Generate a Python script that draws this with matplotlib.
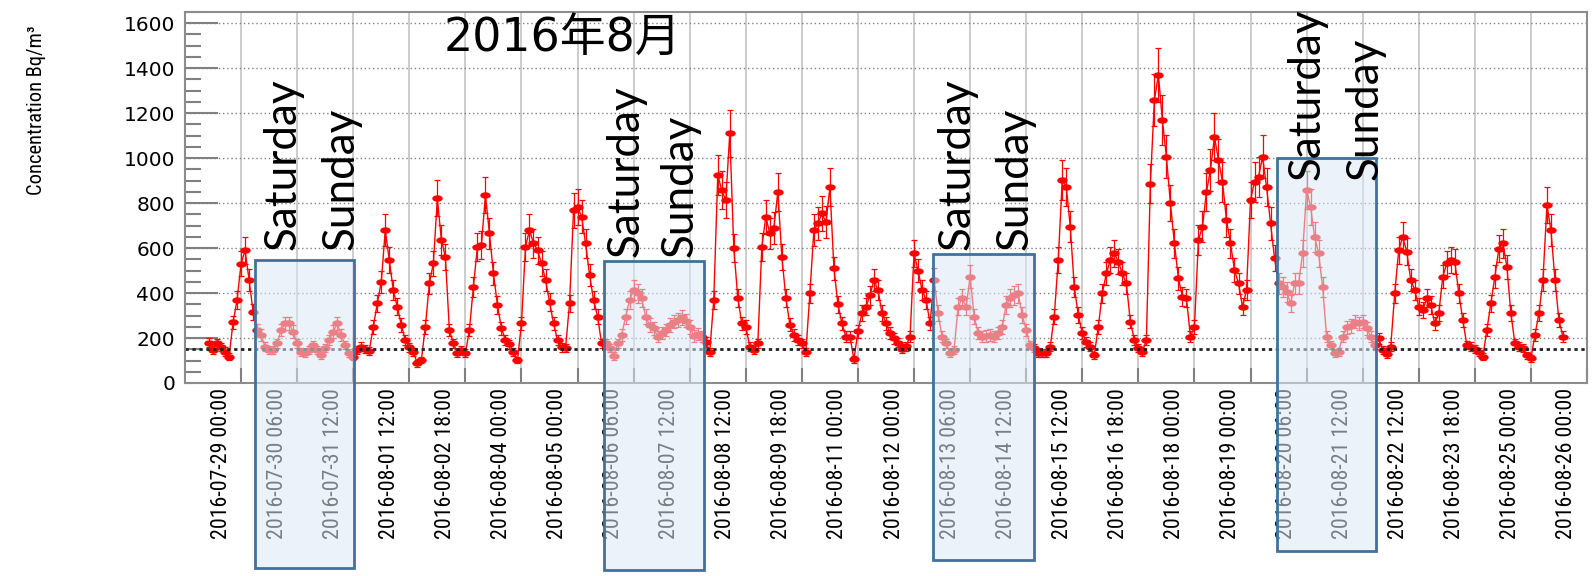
import numpy as np
import matplotlib
matplotlib.use('Agg')
import matplotlib.pyplot as plt
from matplotlib import font_manager as fm
from matplotlib.path import Path
from matplotlib.patches import Rectangle
from matplotlib.ticker import MultipleLocator
from matplotlib.transforms import Affine2D, ScaledTranslation

# radon readings every 2 hours, first one 16 h before 2016-07-29 00:00
start_hour = -16
step_hours = 2
radon = [
    180, 145, 176, 160, 140, 117, 270, 370, 530, 590,
    458, 317, 236, 213, 161, 147, 147, 176, 236, 265,
    265, 228, 176, 139, 132, 147, 169, 147, 124, 154,
    191, 228, 265, 213, 169, 135, 117, 147, 161, 150,
    144, 250, 354, 450, 680, 547, 413, 339, 258, 191,
    158, 139, 87, 102, 250, 443, 532, 821, 636, 561,
    236, 176, 132, 147, 132, 236, 428, 606, 613, 836,
    665, 487, 347, 243, 191, 173, 139, 102, 265, 606,
    680, 621, 591, 532, 458, 361, 265, 191, 158, 154,
    354, 769, 784, 740, 621, 480, 369, 295, 176, 176,
    154, 120, 176, 213, 295, 369, 413, 399, 376, 295,
    258, 243, 206, 221, 236, 258, 273, 280, 292, 277,
    250, 209, 218, 206, 184, 139, 369, 924, 858, 813,
    1110, 600, 380, 265, 250, 161, 147, 176, 606, 739,
    665, 690, 850, 560, 380, 260, 213, 191, 176, 139,
    399, 680, 710, 754, 715, 870, 510, 350, 265, 206,
    206, 105, 230, 310, 339, 390, 458, 413, 310, 265,
    221, 198, 180, 150, 164, 206, 576, 500, 413, 370,
    265, 460, 310, 206, 176, 132, 147, 339, 376, 339,
    473, 295, 221, 206, 209, 213, 206, 221, 250, 347,
    376, 391, 399, 302, 236, 169, 154, 132, 132, 135,
    161, 295, 547, 902, 873, 695, 428, 302, 221, 184,
    161, 124, 250, 399, 487, 547, 576, 539, 487, 443,
    273, 191, 154, 139, 191, 887, 1258, 1370, 1169, 1006,
    799, 621, 465, 384, 376, 206, 250, 636, 695, 850,
    947, 1095, 991, 895, 724, 621, 502, 443, 339, 413,
    813, 895, 917, 1006, 873, 710, 554, 443, 428, 406,
    354, 443, 443, 576, 858, 784, 650, 576, 428, 206,
    169, 135, 139, 206, 247, 253, 273, 265, 273, 243,
    206, 169, 198, 147, 129, 161, 399, 591, 650, 584,
    458, 413, 339, 324, 376, 347, 265, 310, 473, 532,
    547, 539, 399, 280, 169, 161, 150, 139, 117, 236,
    354, 473, 598, 621, 517, 310, 176, 161, 154, 124,
    110, 213, 310, 458, 790, 680, 458, 280, 206,
]
radon_err = [
    20, 18, 20, 18, 18, 16, 30, 40, 55, 60,
    50, 35, 28, 25, 20, 18, 18, 20, 28, 30,
    30, 28, 20, 18, 18, 18, 20, 18, 16, 18,
    22, 28, 30, 25, 20, 18, 16, 18, 20, 18,
    18, 30, 38, 48, 70, 58, 45, 38, 30, 22,
    20, 18, 14, 15, 30, 48, 55, 80, 65, 58,
    28, 20, 18, 18, 18, 28, 45, 62, 62, 80,
    68, 52, 38, 28, 22, 20, 18, 15, 30, 62,
    70, 65, 60, 55, 50, 40, 30, 22, 20, 18,
    38, 78, 80, 75, 65, 50, 40, 32, 20, 20,
    18, 16, 20, 25, 32, 40, 45, 42, 40, 32,
    30, 28, 25, 26, 28, 30, 30, 30, 32, 30,
    30, 25, 26, 25, 22, 18, 40, 90, 85, 80,
    105, 62, 40, 30, 30, 20, 18, 20, 62, 75,
    68, 70, 85, 58, 40, 30, 25, 22, 20, 18,
    42, 70, 72, 76, 72, 85, 52, 38, 30, 25,
    25, 15, 28, 35, 38, 42, 50, 45, 35, 30,
    26, 24, 22, 18, 20, 25, 60, 52, 45, 40,
    30, 50, 35, 25, 20, 18, 18, 38, 40, 38,
    50, 32, 26, 25, 25, 25, 25, 26, 30, 38,
    40, 42, 42, 34, 28, 20, 18, 18, 18, 18,
    20, 32, 58, 88, 85, 70, 45, 34, 26, 22,
    20, 16, 30, 42, 52, 58, 60, 56, 52, 48,
    30, 22, 18, 18, 22, 88, 115, 120, 110, 95,
    80, 65, 50, 42, 40, 25, 30, 65, 70, 85,
    92, 105, 95, 88, 74, 65, 52, 48, 38, 45,
    80, 88, 90, 95, 85, 72, 58, 48, 45, 44,
    38, 48, 48, 60, 85, 80, 66, 60, 45, 25,
    20, 18, 18, 25, 28, 30, 30, 30, 30, 28,
    25, 20, 24, 18, 17, 20, 42, 60, 66, 60,
    50, 45, 38, 36, 40, 38, 30, 35, 50, 55,
    58, 56, 42, 32, 20, 20, 18, 18, 16, 28,
    38, 50, 62, 65, 54, 35, 20, 20, 18, 16,
    15, 25, 35, 50, 80, 70, 50, 32, 25,
]

# axis labels every 28 hours starting 2016-07-29 00:00
tick_step_hours = 28
tick_labels = [
    '2016-07-29 00:00', '2016-07-30 06:00', '2016-07-31 12:00', '2016-08-01 12:00',
    '2016-08-02 18:00', '2016-08-04 00:00', '2016-08-05 00:00', '2016-08-06 06:00',
    '2016-08-07 12:00', '2016-08-08 12:00', '2016-08-09 18:00', '2016-08-11 00:00',
    '2016-08-12 00:00', '2016-08-13 06:00', '2016-08-14 12:00', '2016-08-15 12:00',
    '2016-08-16 18:00', '2016-08-18 00:00', '2016-08-19 00:00', '2016-08-20 06:00',
    '2016-08-21 12:00', '2016-08-22 12:00', '2016-08-23 18:00', '2016-08-25 00:00',
    '2016-08-26 00:00',
]
reference_level = 150

# weekend boxes (hours, concentration units)
weekend_start = [7, 181, 345.5, 517]
weekend_end = [56.5, 231, 396, 566.5]
weekend_top = [547, 542, 573, 1000]
weekend_bottom = [-822, -831, -787, -747]
saturday_x = [21, 192, 357.5, 532]
sunday_x = [50, 219, 386.5, 561]
label_base = [591, 560, 591, 902]

# pick a narrow sans font if there is one (ROOT labels look squeezed)
narrow = {'family': 'Liberation Sans'}
for f in fm.fontManager.ttflist:
    if f.name in ('Liberation Sans Narrow', 'Roboto Condensed'):
        narrow = {'family': f.name}
        break
    if f.name == 'DejaVu Sans' and 'condensed' in str(f.stretch):
        narrow = {'family': 'DejaVu Sans', 'fontstretch': 'condensed'}

fig = plt.figure(figsize=(15.95, 5.76), dpi=100)
renderer = fig.canvas.get_renderer()


def fit_size(s, target_px, **kw):
    t = fig.text(0, 0, s, fontsize=10, **kw)
    w = t.get_window_extent(renderer).width
    t.remove()
    return 10 * target_px / w


xlab_size = fit_size(tick_labels[0], 149, **narrow)
ylab_size = fit_size('Concentration Bq/m³', 168, **narrow)
day_size = fit_size('Saturday', 172, family='Lato')

hours = start_hour + step_hours * np.arange(len(radon))

ax = fig.add_axes([185 / 1595, 193 / 576, 1402 / 1595, 371 / 576])

ellipse = Path.unit_circle().transformed(Affine2D().scale(1.8, 1.0))
ax.errorbar(hours, radon, yerr=radon_err, fmt='-', color='red', lw=1.0,
            marker=ellipse, ms=6.5, ecolor='red', elinewidth=0.9,
            capsize=2.5, capthick=0.9, zorder=2)
ax.axhline(reference_level, color='#222222', lw=2, ls=(0, (1.2, 1.3)), zorder=2.1)

ax.set_xlim(-28, 672)
ax.set_ylim(0, 1650)
ax.set_xticks(np.arange(len(tick_labels)) * tick_step_hours)
ax.set_xticklabels(tick_labels, rotation=90, fontsize=xlab_size, **narrow)
ax.set_yticks(np.arange(0, 1601, 200))
ax.yaxis.set_minor_locator(MultipleLocator(50))
for lab in ax.get_yticklabels():
    lab.set_family('DejaVu Sans')
    lab.set_fontsize(14.5)

ax.tick_params(axis='x', which='major', direction='in', length=10.8, width=1.5,
               color='#808080', pad=3.6)
ax.tick_params(axis='y', which='major', direction='in', length=23.8, width=1.5,
               color='#808080', pad=7.2)
ax.tick_params(axis='y', which='minor', direction='in', length=11.5, width=1.5,
               color='#808080')
ax.tick_params(axis='x', which='minor', bottom=False)
ax.grid(axis='x', color='#c4c4c4', lw=1.2, ls='-')
ax.grid(axis='y', color='#808080', lw=1, ls=(0, (1, 2)))
for sp in ax.spines.values():
    sp.set_color('#8c8c8c')
    sp.set_linewidth(1.5)

# labels sit a bit left of their ticks in the original; shift after tick_params
shift = ScaledTranslation(-20 / 100, 0, fig.dpi_scale_trans)
for tick in ax.xaxis.get_major_ticks():
    tick.label1.set_transform(tick.label1.get_transform() + shift)

for x0, x1, top, bot in zip(weekend_start, weekend_end, weekend_top, weekend_bottom):
    ax.add_patch(Rectangle((x0, bot), x1 - x0, top - bot, transform=ax.transData,
                           facecolor=(0.86, 0.91, 0.965, 0.55), edgecolor='#41719c',
                           lw=2, clip_on=False, zorder=2.6))
for sx, ux, base in zip(saturday_x, sunday_x, label_base):
    ax.text(sx, base, 'Saturday', rotation=90, ha='center', va='bottom',
            family='Lato', fontsize=day_size, zorder=3, clip_on=False)
    ax.text(ux, base, 'Sunday', rotation=90, ha='center', va='bottom',
            family='Lato', fontsize=day_size, zorder=3, clip_on=False)

fig.text(562 / 1595, 1 - 38 / 576, '2016年8月', fontsize=33, ha='center', va='center',
         family=['DejaVu Sans', 'Noto Sans CJK JP'])
fig.text(37 / 1595, 1 - 110 / 576, 'Concentration Bq/m³', rotation=90,
         ha='center', va='center', fontsize=ylab_size, **narrow)

fig.savefig('out.png', dpi=100)
